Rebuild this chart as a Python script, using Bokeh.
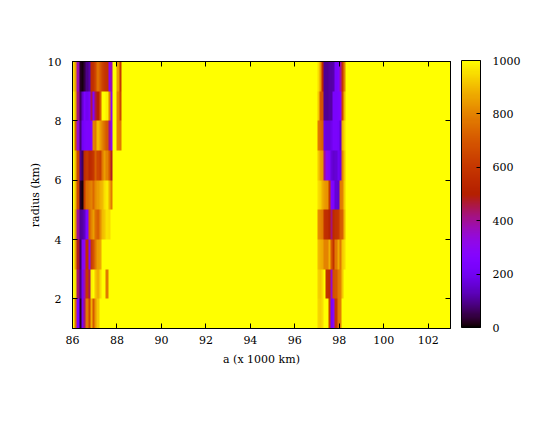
import numpy as np
from bokeh.plotting import figure
from bokeh.models import (LinearColorMapper, ColorBar, LinearAxis, FixedTicker,
                          Range1d)
from bokeh.embed import file_html
from bokeh.resources import INLINE

# ---------------- data ----------------
x_ticks = [86, 88, 90, 92, 94, 96, 98, 100, 102]
y_ticks = [2, 4, 6, 8, 10]
cb_ticks = [0, 200, 400, 600, 800, 1000]

a_start, a_end, a_step = 86.0, 103.0, 0.1
radius_lower = [1, 2, 3, 4, 5, 6, 7, 8, 9]          # cell rows span [r, r+1] km
background_value = 1000                              # saturated (yellow) cells

left_a = [86.0, 86.1, 86.2, 86.3, 86.4, 86.5, 86.6, 86.7, 86.8, 86.9, 87.0, 87.1,
          87.2, 87.3, 87.4, 87.5, 87.6, 87.7, 87.8, 87.9, 88.0, 88.1, 88.2, 88.3]
# rows: radius 1-2 ... 9-10
left_band = [
    [1000, 760, 250, 20, 230, 420, 780, 640, 880, 700, 850, 920, 1000, 1000, 1000, 1000, 1000, 1000, 1000, 1000, 1000, 1000, 1000, 1000],
    [1000, 950, 430, 80, 220, 380, 600, 450, 980, 1000, 920, 880, 950, 1000, 1000, 780, 1000, 1000, 1000, 1000, 1000, 1000, 1000, 1000],
    [1000, 850, 480, 60, 250, 320, 560, 300, 620, 680, 780, 850, 870, 1000, 1000, 1000, 1000, 1000, 1000, 1000, 1000, 1000, 1000, 1000],
    [1000, 850, 400, 100, 110, 140, 250, 720, 800, 850, 760, 720, 820, 900, 920, 960, 950, 1000, 1000, 1000, 1000, 1000, 1000, 1000],
    [1000, 900, 650, 30, 10, 620, 760, 780, 800, 740, 820, 850, 880, 900, 950, 970, 880, 780, 1000, 1000, 1000, 1000, 1000, 1000],
    [1000, 900, 650, 100, 60, 560, 600, 540, 560, 600, 720, 650, 620, 780, 850, 800, 700, 480, 1000, 1000, 1000, 1000, 1000, 1000],
    [1000, 700, 350, 80, 200, 230, 240, 240, 260, 800, 780, 900, 850, 800, 750, 700, 400, 300, 1000, 1000, 800, 780, 1000, 1000],
    [1000, 880, 420, 60, 150, 240, 200, 230, 450, 250, 450, 500, 700, 1000, 1000, 980, 800, 300, 1000, 1000, 800, 650, 1000, 1000],
    [950, 850, 380, 20, 10, 40, 90, 120, 560, 580, 650, 760, 700, 640, 600, 580, 300, 380, 1000, 1000, 850, 600, 1000, 1000],
]

right_a = [97.0, 97.1, 97.2, 97.3, 97.4, 97.5, 97.6, 97.7, 97.8, 97.9, 98.0, 98.1, 98.2, 98.3]
right_band = [
    [940, 930, 950, 1000, 1000, 620, 220, 300, 600, 780, 790, 1000, 1000, 1000],
    [930, 920, 950, 1000, 580, 560, 350, 680, 700, 780, 790, 920, 1000, 1000],
    [900, 880, 870, 800, 800, 880, 700, 580, 780, 870, 780, 920, 950, 1000],
    [820, 800, 780, 580, 560, 520, 420, 550, 580, 600, 700, 720, 900, 1000],
    [950, 930, 880, 850, 830, 600, 250, 240, 160, 150, 780, 800, 930, 1000],
    [920, 860, 840, 400, 300, 250, 170, 150, 160, 200, 180, 800, 920, 1000],
    [780, 750, 720, 180, 170, 170, 190, 230, 230, 220, 150, 880, 950, 1000],
    [920, 700, 680, 100, 100, 110, 110, 230, 230, 240, 260, 650, 900, 1000],
    [950, 850, 550, 100, 100, 110, 110, 120, 230, 250, 380, 600, 800, 1000],
]

# ---------------- grid ----------------
n_cols = int(round((a_end - a_start) / a_step))
z = np.full((len(radius_lower), n_cols), float(background_value))
for band_a, band in ((left_a, left_band), (right_a, right_band)):
    for r, row in enumerate(band):
        for a, v in zip(band_a, row):
            z[r, int(round((a - a_start) / a_step))] = v

# gnuplot default palette (rgbformulae 7,5,15)
t = np.linspace(0, 1, 256)
rr = np.sqrt(t)
gg = t ** 3
bb = np.clip(np.sin(2 * np.pi * t), 0, 1)
palette = ["#%02x%02x%02x" % (int(round(r * 255)), int(round(g * 255)), int(round(b * 255)))
           for r, g, b in zip(rr, gg, bb)]
mapper = LinearColorMapper(palette=palette, low=0, high=1000)

FONT = "DejaVu Serif"
FS = "11px"

p = figure(x_range=Range1d(a_start, a_end), y_range=Range1d(radius_lower[0], radius_lower[-1] + 1),
           frame_width=378, frame_height=267,
           min_border_left=72, min_border_top=61, min_border_right=10, min_border_bottom=10,
           output_backend="svg", toolbar_location=None,
           x_axis_label="a (x 1000 km)", y_axis_label="radius (km)")
p.image(image=[z], x=a_start, y=radius_lower[0], dw=a_end - a_start,
        dh=len(radius_lower), color_mapper=mapper)

p.xgrid.visible = False
p.ygrid.visible = False
p.outline_line_color = "black"
p.outline_line_alpha = 1
p.background_fill_color = "white"

p.xaxis.ticker = FixedTicker(ticks=x_ticks)
p.yaxis.ticker = FixedTicker(ticks=y_ticks)
for ax in (p.xaxis[0], p.yaxis[0]):
    ax.major_tick_in = 5
    ax.major_tick_out = 0
    ax.minor_tick_line_color = None
    ax.axis_line_color = "black"
    ax.major_tick_line_color = "black"
    ax.major_label_text_font = FONT
    ax.major_label_text_font_size = FS
    ax.major_label_text_color = "black"
    ax.axis_label_text_font = FONT
    ax.axis_label_text_font_size = FS
    ax.axis_label_text_font_style = "normal"
    ax.axis_label_text_color = "black"
p.xaxis.major_label_standoff = 7
p.yaxis.major_label_standoff = 11
p.xaxis.axis_label_standoff = 6
p.yaxis.axis_label_standoff = 3

# mirror ticks (top and right)
for loc, ticks in (("above", x_ticks), ("right", y_ticks)):
    ax = LinearAxis(ticker=FixedTicker(ticks=ticks), major_tick_in=5, major_tick_out=0,
                    minor_tick_line_color=None, major_label_text_color=None,
                    major_label_standoff=0, axis_line_color="black")
    p.add_layout(ax, loc)

cb = ColorBar(color_mapper=mapper, ticker=FixedTicker(ticks=cb_ticks),
              width=19, height=267, location=(0, -10), padding=11, margin=0,
              major_tick_in=4, major_tick_out=0, major_tick_line_color="black",
              minor_tick_line_color=None,
              bar_line_color="black", label_standoff=12,
              major_label_text_font=FONT, major_label_text_font_size=FS,
              major_label_text_color="black",
              background_fill_alpha=0)
p.add_layout(cb, "right")

open("out.html", "w").write(file_html(p, INLINE))
